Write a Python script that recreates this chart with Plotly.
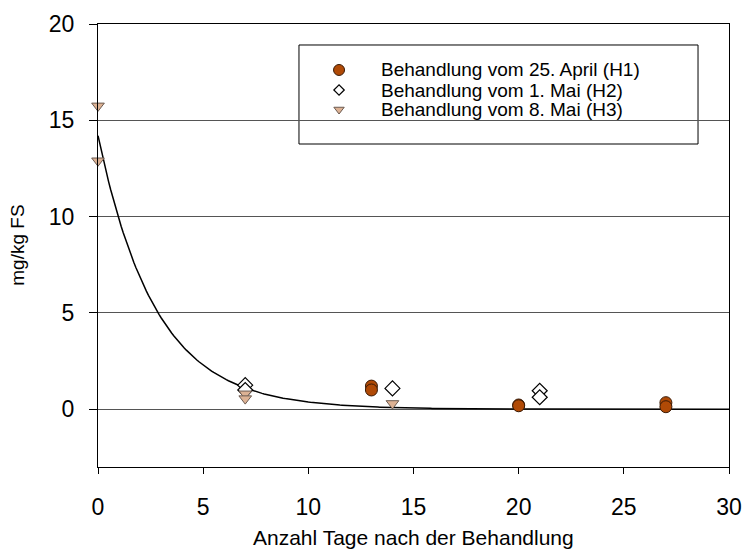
import numpy as np
import plotly.graph_objects as go

# ---- data ----
h1_x = [13, 13, 20, 20, 27, 27]
h1_y = [1.2, 1.0, 0.22, 0.18, 0.34, 0.13]
h2_x = [7, 7, 14, 21, 21]
h2_y = [1.25, 1.0, 1.08, 0.96, 0.62]
h3_x = [0, 0, 7, 7, 14]
h3_y = [15.75, 12.9, 0.8, 0.55, 0.3]
labels = ["Behandlung vom 25. April (H1)", "Behandlung vom 1. Mai (H2)", "Behandlung vom 8. Mai (H3)"]

# exponential decay trend line (parameters)
fit_a = 14.2
fit_k = 0.365
fit_x = np.linspace(0, 30, 301)
fit_y = fit_a * np.exp(-fit_k * fit_x)

FONT = "Liberation Sans, Arial, sans-serif"
c_h1 = "#B04A06"
c_h3 = "#DDB294"

styles = [
    dict(symbol="circle", color=c_h1, line=dict(color="#3a1a05", width=1), size=12),
    dict(symbol="diamond", color="white", line=dict(color="black", width=1.2), size=11.5),
    dict(symbol="triangle-down", color=c_h3, line=dict(color="#6b5a50", width=1), size=11),
]

fig = go.Figure()
fig.add_trace(go.Scatter(x=fit_x, y=fit_y, mode="lines", line=dict(color="black", width=1.5),
                         showlegend=False, hoverinfo="skip"))
for xs, ys, st, lab in zip([h1_x, h2_x, h3_x], [h1_y, h2_y, h3_y], styles, labels):
    fig.add_trace(go.Scatter(x=xs, y=ys, mode="markers", name=lab, marker=st,
                             cliponaxis=False, showlegend=False))

# ---- manual legend (box, swatches on a hidden 0..1 overlay axis, texts) ----
leg_mx = 0.382
leg_tx = 0.4453
leg_rows = [0.8962, 0.8510, 0.8070]
leg_sizes = [11, 8, 9]
fig.add_shape(type="rect", xref="paper", yref="paper", x0=0.3185, x1=0.9509, y0=0.7291, y1=0.9526,
              line=dict(color="black", width=1), fillcolor="white", layer="between")
for st, ry, sz, lab in zip(styles, leg_rows, leg_sizes, labels):
    m = dict(st)
    m["size"] = sz
    fig.add_trace(go.Scatter(x=[leg_mx], y=[ry], xaxis="x2", yaxis="y2", mode="markers",
                             marker=m, showlegend=False, hoverinfo="skip", cliponaxis=False))
    fig.add_annotation(x=leg_tx, y=ry, xref="paper", yref="paper", text=lab, showarrow=False,
                       xanchor="left", yanchor="middle", font=dict(family=FONT, size=19, color="black"))

fig.add_annotation(x=-0.128, y=0.5, xref="paper", yref="paper", text="mg/kg FS", textangle=-90,
                   showarrow=False, font=dict(family=FONT, size=19, color="black"),
                   xanchor="center", yanchor="middle")
fig.add_annotation(x=0.5, y=-0.16, xref="paper", yref="paper", text="Anzahl Tage nach der Behandlung",
                   showarrow=False, font=dict(family=FONT, size=21, color="black"),
                   xanchor="center", yanchor="middle")

fig.update_layout(
    width=743, height=550,
    margin=dict(l=98, r=14, t=24, b=83),
    paper_bgcolor="white", plot_bgcolor="white",
    font=dict(family=FONT, color="black"),
    showlegend=False,
    xaxis=dict(range=[0, 30], tickvals=[0, 5, 10, 15, 20, 25, 30], showgrid=False, zeroline=False,
               showline=True, linecolor="black", linewidth=1, mirror=True, automargin=False,
               ticks="outside", ticklen=6, tickcolor="black", tickfont=dict(size=23),
               ticklabelstandoff=13),
    yaxis=dict(range=[-3, 20], tickvals=[0, 5, 10, 15, 20], showgrid=True, gridcolor="#555555",
               gridwidth=1, zeroline=False, showline=True, linecolor="black", linewidth=1, mirror=True,
               automargin=False, ticks="outside", ticklen=8, tickcolor="black", tickfont=dict(size=23),
               ticklabelstandoff=10),
    xaxis2=dict(range=[0, 1], overlaying="x", visible=False, fixedrange=True),
    yaxis2=dict(range=[0, 1], overlaying="y", visible=False, fixedrange=True),
)

fig.write_html("out.html", config={"displayModeBar": False},
               post_script="document.body.style.margin='0';document.body.style.overflow='hidden';")
